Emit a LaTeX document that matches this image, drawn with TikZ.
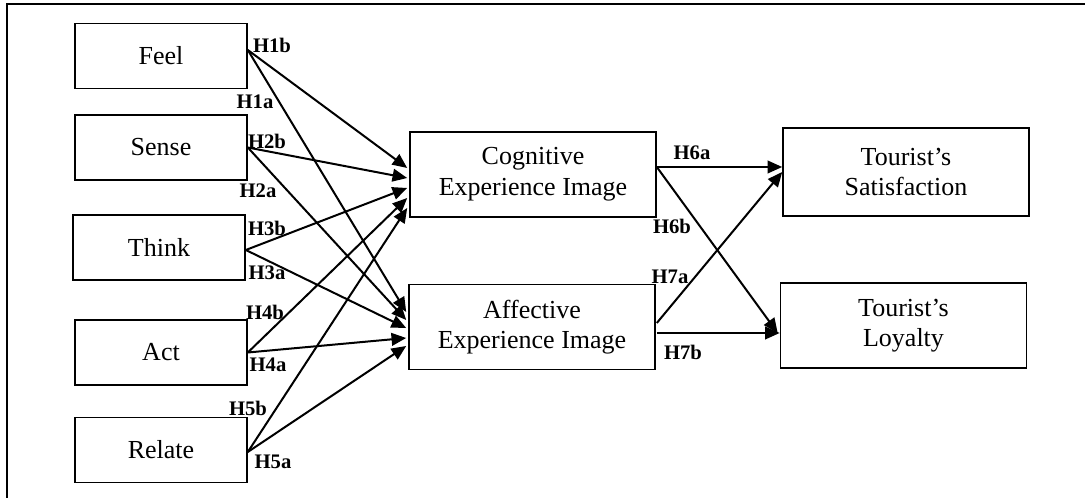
\documentclass[tikz,border=0pt]{standalone}
\usepackage{fontspec}
\setmainfont{Liberation Serif}
\usetikzlibrary{arrows.meta,calc}
\begin{document}
\begin{tikzpicture}[x=0.75pt,y=-0.75pt,
 box/.style={draw, line width=1.2pt, inner sep=0pt, align=center, font=\fontsize{19.5}{23}\selectfont},
 small/.style={box, minimum width=129pt, minimum height=48.5pt},
 big/.style={box, minimum width=184.5pt, minimum height=64pt},
 hyp/.style={font=\fontsize{15.5}{17}\selectfont\bfseries, inner sep=0pt},
 arr/.style={line width=1.5pt, -{Triangle[length=11pt,width=9.5pt]}},
 frameline/.style={line width=1.5pt}]
\useasboundingbox (0,0) rectangle (1085,498);
\draw[frameline] (7,498) -- (7,4) -- (1085,4);

\node[small] (feel) at (161,56) {Feel};
\node[small] (sense) at (161,147.5) {Sense};
\node[small] (think) at (159,247.5) {Think};
\node[small] (act) at (161,352.5) {Act};
\node[small] (relate) at (161,450) {Relate};
\node[big] (cog) at (533,174.5) {Cognitive\\Experience Image};
\node[big] (aff) at (532,327) {Affective\\Experience Image};
\node[big, minimum height=66pt] (sat) at (906,172) {Tourist’s\\Satisfaction};
\node[big] (loy) at (903.5,325.5) {Tourist’s\\Loyalty};

% sources
\coordinate (sF) at ($(feel.east)+(0,-6)$);
\coordinate (sS) at (sense.east);
\coordinate (sT) at ($(think.east)+(0,2.5)$);
\coordinate (sA) at (act.east);
\coordinate (sR) at ($(relate.east)+(0,2)$);

\draw[arr] (sF) -- ($(cog.west)+(-2,-6.5)$);
\draw[arr] (sF) -- ($(aff.west)+(-2,-15)$);
\draw[arr] (sS) -- ($(cog.west)+(-2,3.5)$);
\draw[arr] (sS) -- ($(aff.west)+(-2,-7)$);
\draw[arr] (sT) -- ($(cog.west)+(-2,13.5)$);
\draw[arr] (sT) -- ($(aff.west)+(-2,1)$);
\draw[arr] (sA) -- ($(cog.west)+(-2,23.5)$);
\draw[arr] (sA) -- ($(aff.west)+(-2,11)$);
\draw[arr] (sR) -- ($(cog.west)+(-2,33.5)$);
\draw[arr] (sR) -- ($(aff.west)+(-2,19)$);

\draw[arr] ($(cog.east)+(0,-7.5)$) -- ($(sat.west)+(0,-5)$);
\draw[arr] ($(cog.east)+(0,-7.5)$) -- ($(loy.west)+(-2,7.5)$);
\draw[arr] ($(aff.east)+(1,-4)$) -- ($(sat.west)+(0,0)$);
\draw[arr] ($(aff.east)+(1,6)$) -- ($(loy.west)+(0,7.5)$);

\node[hyp] (h1b) at (272,45) {H1b};
\node[hyp] (h1a) at (255,102) {H1a};
\node[hyp] (h2b) at (267,141) {H2b};
\node[hyp] (h2a) at (258,191) {H2a};
\node[hyp] (h3b) at (267,228) {H3b};
\node[hyp] (h3a) at (267,273) {H3a};
\node[hyp] (h4b) at (265,312) {H4b};
\node[hyp] (h4a) at (268,365) {H4a};
\node[hyp] (h5b) at (248,408) {H5b};
\node[hyp] (h5a) at (273,462) {H5a};
\node[hyp] (h6a) at (692,153) {H6a};
\node[hyp] (h6b) at (672,226) {H6b};
\node[hyp] (h7a) at (670,277) {H7a};
\node[hyp] (h7b) at (683,352) {H7b};
\end{tikzpicture}
\end{document}
